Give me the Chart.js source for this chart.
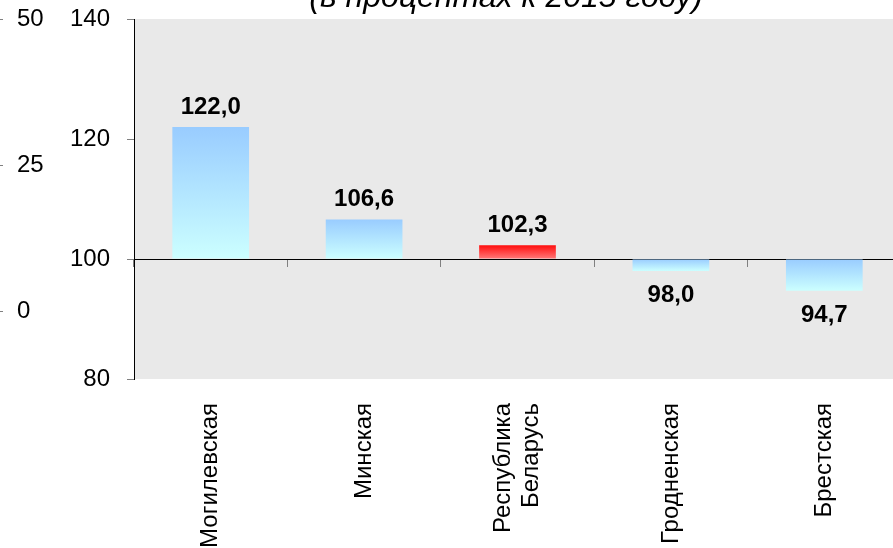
<!DOCTYPE html>
<html>
<head>
<meta charset="utf-8">
<script src="https://cdn.jsdelivr.net/npm/chart.js@4.4.0/dist/chart.umd.min.js"></script>
<style>
    html, body { margin: 0; padding: 0; background: #fff; overflow: hidden; }
    #wrap { width: 901px; height: 548px; }
</style>
</head>
<body>
<div id="wrap"><canvas id="barChart" width="901" height="548"></canvas></div>
<script>
// --- DATA ---
const categories = ['Могилевская', 'Минская', ['Республика', 'Беларусь'], 'Гродненская', 'Брестская'];
const values = [122.0, 106.6, 102.3, 98.0, 94.7];
const baseValue = 100;
const yTicks = [80, 100, 120, 140];
// leftover axis from a neighbouring chart, cut at the left edge
const leftoverTicks = [0, 25, 50];
const leftoverRange = [-11.6, 50];
const highlightIndex = 2; // Республика Беларусь
const subtitle = '(в процентах к 2015 году)';

Chart.defaults.font.family = "'Liberation Sans', Arial, sans-serif";
Chart.defaults.color = '#000';

// gradient fill per bar, from its top to its bottom
function barFill(context) {
    const chart = context.chart;
    if (!chart.chartArea) return '#99ccff';
    const y = chart.scales.y;
    const v = values[context.dataIndex];
    const top = y.getPixelForValue(Math.max(v, baseValue));
    const bottom = y.getPixelForValue(Math.min(v, baseValue));
    const g = chart.ctx.createLinearGradient(0, top, 0, bottom + 0.01);
    if (context.dataIndex === highlightIndex) {
        g.addColorStop(0, '#ff0d0d');
        g.addColorStop(1, '#ff7a7a');
    } else {
        g.addColorStop(0, '#99ccff');
        g.addColorStop(1, '#ccffff');
    }
    return g;
}

// fixed axis width, and no extra room asked for the end labels
function fixWidth(width) {
    return function (scale) {
        scale.width = width;
        scale.paddingTop = 0;
        scale.paddingBottom = 0;
    };
}

// grey plot background
const plotBackground = {
    id: 'plotBackground',
    beforeDraw(chart) {
        const { ctx, chartArea } = chart;
        ctx.save();
        ctx.fillStyle = '#e9e9e9';
        ctx.fillRect(chartArea.left, chartArea.top, chartArea.right - chartArea.left, chartArea.bottom - chartArea.top);
        ctx.restore();

        // centre two-line category labels on their tick (Chart.js starts them at the tick)
        const items = chart.scales.x.getLabelItems(chartArea);
        items.forEach(function (item) {
            if (Array.isArray(item.label) && !item._centred) {
                item.options.translation[0] -= (item.label.length - 1) * item.font.lineHeight / 2;
                item._centred = true;
            }
        });
    }
};

// value labels above / below bars
const valueLabels = {
    id: 'valueLabels',
    afterDatasetsDraw(chart) {
        const ctx = chart.ctx;
        const meta = chart.getDatasetMeta(0);
        ctx.save();
        ctx.font = "bold 24px 'Liberation Sans', Arial, sans-serif";
        ctx.fillStyle = '#000';
        ctx.textAlign = 'center';
        ctx.textBaseline = 'alphabetic';
        meta.data.forEach(function (bar, i) {
            const v = values[i];
            const text = v.toFixed(1).replace('.', ',');
            const y = v >= baseValue ? bar.y - 13 : bar.y + 31;
            ctx.fillText(text, bar.x, y);
        });
        ctx.restore();
    }
};

// subtitle, cut by the top edge like in the source picture
const subtitleText = {
    id: 'subtitleText',
    afterDraw(chart) {
        const ctx = chart.ctx;
        ctx.save();
        ctx.font = "italic 32px 'Liberation Sans', Arial, sans-serif";
        ctx.fillStyle = '#000';
        ctx.textAlign = 'center';
        ctx.textBaseline = 'alphabetic';
        ctx.fillText(subtitle, 506, 7);
        ctx.restore();
    }
};

const ctx = document.getElementById('barChart').getContext('2d');
window.barChart = new Chart(ctx, {
    type: 'bar',
    data: {
        labels: categories,
        datasets: [{
            data: values,
            base: baseValue,
            backgroundColor: barFill,
            borderWidth: 0,
            barPercentage: 1,
            categoryPercentage: 0.5
        }]
    },
    options: {
        responsive: false,
        devicePixelRatio: 1,
        animation: false,
        layout: { padding: { top: 19, left: 0, right: 0, bottom: 0 } },
        plugins: {
            legend: { display: false },
            tooltip: { enabled: false }
        },
        scales: {
            x: {
                type: 'category',
                position: 'bottom',
                grid: { display: false, drawTicks: false },
                border: { display: false },
                ticks: {
                    color: '#000',
                    font: { size: 24, lineHeight: 1.15 },
                    minRotation: 90,
                    maxRotation: 90,
                    padding: 24,
                    autoSkip: false
                },
                afterFit: function (scale) { scale.height = 169; }
            },
            xBase: {
                type: 'category',
                axis: 'x',
                position: { y: baseValue },
                offset: true,
                grid: { offset: true, drawOnChartArea: false, drawTicks: true, tickLength: 7, tickColor: '#808080' },
                border: { display: true, color: '#000', width: 1 },
                ticks: { display: false }
            },
            y: {
                position: 'left',
                weight: 0,
                min: yTicks[0],
                max: yTicks[yTicks.length - 1],
                afterBuildTicks: function (scale) {
                    scale.ticks = yTicks.map(function (v) { return { value: v }; });
                },
                ticks: { color: '#000', font: { size: 24 }, padding: 17 },
                grid: { drawOnChartArea: false, tickLength: 7, tickColor: '#808080' },
                border: { color: '#000', width: 1 },
                afterFit: fixWidth(131)
            },
            yLeftover: {
                position: 'left',
                weight: 10,
                min: leftoverRange[0],
                max: leftoverRange[1],
                afterBuildTicks: function (scale) {
                    scale.ticks = leftoverTicks.map(function (v) { return { value: v }; });
                },
                ticks: { mirror: true, padding: 14, color: '#000', font: { size: 24 } },
                grid: { drawOnChartArea: false, tickLength: 3, tickColor: '#808080' },
                border: { display: false },
                afterFit: fixWidth(3)
            }
        }
    },
    plugins: [plotBackground, valueLabels, subtitleText]
});
</script>
</body>
</html>
